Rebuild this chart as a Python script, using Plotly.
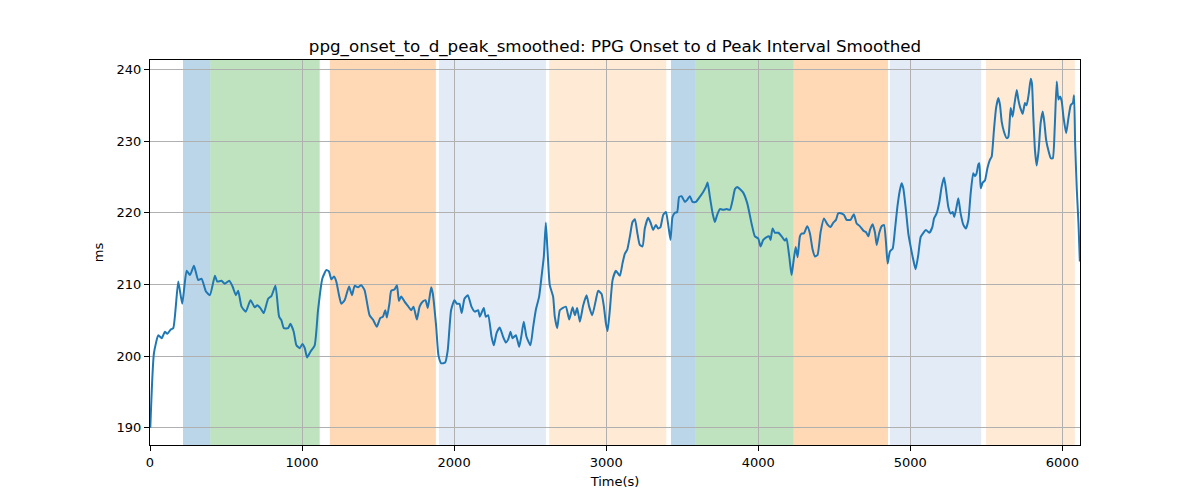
import plotly.graph_objects as go

# ---- data ----
time_s = [2, 26, 55, 77, 98, 114, 136, 153, 186, 212, 241, 263, 289, 317, 339, 368, 394, 427, 442, 470, 492, 521, 543, 565, 580, 602, 630, 661, 689, 705, 726, 748, 777, 799, 825, 849, 864, 880, 908, 923, 945, 963, 985, 1002, 1018, 1033, 1055, 1083, 1105, 1133, 1160, 1177, 1193, 1210, 1225, 1243, 1258, 1280, 1309, 1328, 1346, 1368, 1389, 1411, 1444, 1466, 1492, 1514, 1532, 1547, 1558, 1575, 1586, 1608, 1624, 1637, 1652, 1674, 1696, 1718, 1733, 1755, 1773, 1794, 1812, 1827, 1849, 1860, 1882, 1897, 1915, 1941, 1958, 1980, 2002, 2018, 2035, 2050, 2068, 2090,
          2114, 2136, 2158, 2169, 2195, 2208, 2224, 2246, 2261, 2279, 2300, 2322, 2340, 2355, 2371, 2384, 2406, 2428, 2443, 2458, 2476, 2502, 2520, 2537, 2559, 2575, 2590, 2603, 2614, 2629, 2651, 2662, 2678, 2695, 2713, 2735, 2757, 2779, 2794, 2809, 2827, 2849, 2871, 2888, 2908, 2932, 2947, 2969, 2985, 2998, 3009, 3024, 3042, 3064, 3090, 3107, 3123, 3138, 3156, 3173, 3189, 3204, 3221, 3239, 3254, 3276, 3292, 3309, 3327, 3342, 3357, 3375, 3393, 3408, 3423, 3436, 3452, 3467, 3480, 3496, 3518, 3533, 3550, 3568, 3590, 3612, 3638, 3656, 3667, 3682, 3700, 3715, 3730, 3748, 3770, 3792, 3814, 3831, 3847, 3862,
          3879, 3901, 3928, 3956, 3978, 4000, 4015, 4033, 4055, 4072, 4081, 4094, 4110, 4132, 4154, 4175, 4186, 4204, 4219, 4230, 4246, 4259, 4274, 4285, 4300, 4322, 4340, 4357, 4373, 4390, 4410, 4432, 4454, 4476, 4493, 4511, 4526, 4548, 4564, 4581, 4607, 4629, 4647, 4669, 4691, 4708, 4724, 4735, 4752, 4768, 4779, 4796, 4811, 4827, 4840, 4851, 4866, 4884, 4899, 4915, 4932, 4943, 4954, 4971, 4987, 5002, 5020, 5035, 5053, 5068, 5086, 5103, 5125, 5145, 5156, 5173, 5191, 5206, 5222, 5235, 5250, 5265, 5279, 5289, 5305, 5316, 5331, 5349, 5366, 5382, 5397, 5414, 5425, 5436, 5447, 5454, 5463, 5476, 5491, 5507, 5524, 5535, 5550, 5564, 5579, 5590, 5601, 5616, 5634, 5645, 5660, 5673, 5684, 5700, 5711, 5721, 5739, 5754, 5765, 5779, 5792, 5800, 5809, 5820, 5831, 5844, 5857, 5871, 5882, 5893, 5908, 5924, 5937, 5950, 5963, 5974, 5985, 5996, 6007, 6025, 6040, 6055, 6069, 6077, 6084, 6095, 6106, 6115]

interval_ms = [190.0, 200.4, 202.9, 202.5, 203.4, 203.1, 203.7, 203.9, 210.4, 207.3, 211.9, 211.3, 212.6, 210.6, 210.8, 209.0, 208.5, 211.2, 210.4, 210.5, 210.1, 210.5, 209.7, 208.5, 209.1, 206.9, 206.2, 207.8, 206.8, 207.1, 206.7, 206.0, 208.0, 208.4, 209.8, 205.5, 205.0, 203.9, 203.9, 204.5, 203.4, 201.5, 201.1, 201.7, 201.1, 199.8, 200.6, 201.5, 206.4, 210.8, 212.0, 211.8, 210.7, 211.1, 210.4, 208.5, 207.3, 207.8, 209.7, 208.5, 209.8, 209.6, 209.9, 209.2, 205.7, 205.1, 204.1, 205.3, 205.5, 206.4, 205.4, 207.4, 209.1, 209.3, 209.9, 207.7, 208.3, 207.6, 207.0, 206.4, 206.9, 205.1, 206.9, 207.6, 207.8, 206.7, 209.6, 208.7, 204.1, 200.1, 199.0, 199.1, 200.8, 206.4, 207.8, 207.3, 207.3, 206.0, 208.0, 208.5,
               206.9, 206.2, 206.4, 205.5, 206.7, 205.5, 205.7, 202.7, 201.5, 203.2, 204.0, 202.7, 201.9, 202.3, 203.4, 202.5, 202.9, 201.3, 202.9, 204.8, 202.7, 201.5, 204.1, 206.4, 208.3, 211.1, 213.9, 218.6, 214.8, 209.9, 208.3, 205.5, 203.9, 206.4, 206.7, 206.9, 205.1, 206.8, 205.7, 206.7, 204.8, 207.1, 208.5, 206.9, 205.7, 207.8, 209.1, 208.7, 206.9, 204.6, 203.5, 206.4, 210.6, 211.9, 211.2, 212.9, 214.3, 214.8, 216.7, 218.7, 219.1, 217.3, 215.5, 215.3, 217.8, 219.3, 218.6, 217.6, 218.3, 217.8, 218.0, 219.7, 220.1, 218.3, 216.2, 219.4, 220.0, 220.1, 222.2, 222.3, 221.5, 221.8, 222.3, 221.5, 221.5, 222.1, 222.9, 223.6, 224.2, 222.2, 219.9, 218.7, 219.7, 220.5, 220.4, 220.5, 220.4, 221.7, 223.3, 223.6,
               223.3, 222.8, 221.3, 218.5, 216.7, 216.4, 215.3, 216.2, 216.6, 216.7, 216.2, 217.8, 217.2, 217.2, 216.7, 216.1, 216.4, 213.9, 211.3, 212.9, 215.2, 213.8, 216.7, 217.1, 217.1, 218.1, 217.1, 214.9, 213.9, 214.1, 217.3, 219.2, 218.4, 218.0, 218.6, 219.0, 219.9, 219.9, 219.7, 219.0, 219.0, 219.8, 218.5, 218.1, 217.5, 217.3, 216.7, 217.6, 218.4, 217.2, 215.5, 217.2, 218.1, 218.3, 215.9, 212.9, 214.6, 215.0, 217.6, 220.8, 223.2, 224.1, 223.4, 220.4, 217.1, 215.3, 213.4, 212.1, 214.2, 216.6, 217.2, 217.6, 217.2, 218.0, 219.2, 219.9, 221.5, 223.6, 224.9, 223.2, 220.8, 219.9, 220.1, 219.4, 220.9, 222.0, 219.9, 218.3, 217.8, 219.0, 222.7, 225.5, 225.1, 225.5, 226.7, 226.9, 223.4, 224.2, 224.5, 226.2, 227.4, 227.8, 231.5, 234.6, 236.0, 235.0, 232.7, 231.3, 230.4, 230.6, 234.6, 233.4, 235.0, 237.1, 235.7, 234.8, 233.8, 235.3, 235.0, 236.6, 238.7, 238.0, 233.4, 228.7, 226.6, 228.7, 232.5, 234.1, 232.5, 230.2, 228.7, 227.6, 227.6, 232.0, 238.3, 235.8, 236.2, 235.5, 233.4, 231.1, 233.2, 235.0, 235.3, 236.4, 229.7, 223.2, 218.5, 213.2]

# phase spans (start, end) and their phase kind
span_starts = [217, 397, 1183, 1900, 2625, 3426, 3587, 4232, 4866, 5498]
span_ends = [397, 1116, 1880, 2604, 3395, 3587, 4232, 4853, 5466, 6082]
span_kinds = ["a", "b", "c", "d", "e", "a", "b", "c", "d", "e"]

x_ticks = [0, 1000, 2000, 3000, 4000, 5000, 6000]
y_ticks = [190, 200, 210, 220, 230, 240]

# ---- styles ----
kind_colors = {
    "a": "rgba(31,119,180,0.3)",
    "b": "rgba(44,160,44,0.3)",
    "c": "rgba(255,127,14,0.3)",
    "d": "rgba(174,199,232,0.35)",
    "e": "rgba(255,187,120,0.3)",
}

fig = go.Figure()
fig.add_trace(go.Scatter(x=time_s, y=interval_ms, mode="lines",
                         line=dict(color="#1f77b4", width=2, shape="spline", smoothing=0.5),
                         showlegend=False))

for s, e, k in zip(span_starts, span_ends, span_kinds):
    fig.add_shape(type="rect", xref="x", yref="paper", x0=s, x1=e, y0=0, y1=1,
                  fillcolor=kind_colors[k], line=dict(width=0), layer="below")

font = "DejaVu Sans, sans-serif"
fig.update_layout(
    width=1200, height=500,
    margin=dict(l=142, r=128, t=52, b=63),
    paper_bgcolor="white", plot_bgcolor="white",
    font=dict(family=font, size=13, color="black"),
    title=dict(text="ppg_onset_to_d_peak_smoothed: PPG Onset to d Peak Interval Smoothed",
               x=0.5, xref="paper", xanchor="center", y=1 - 38 / 500, yref="container",
               yanchor="middle", font=dict(family=font, size=16.7, color="black")),
)
fig.update_xaxes(range=[0, 6116], tickvals=x_ticks, showgrid=True, gridcolor="#b0b0b0",
                 gridwidth=1, showline=True, linecolor="black", linewidth=1, mirror=True,
                 ticks="outside", ticklen=5, tickcolor="black", zeroline=False,
                 title=dict(text="Time(s)", font=dict(size=13), standoff=8))
fig.update_yaxes(range=[187.6, 241.3], tickvals=y_ticks, showgrid=True, gridcolor="#b0b0b0",
                 gridwidth=1, showline=True, linecolor="black", linewidth=1, mirror=True,
                 ticks="outside", ticklen=5, tickcolor="black", zeroline=False,
                 title=dict(text="ms", font=dict(size=13), standoff=10))

fig.write_html("out.html")
